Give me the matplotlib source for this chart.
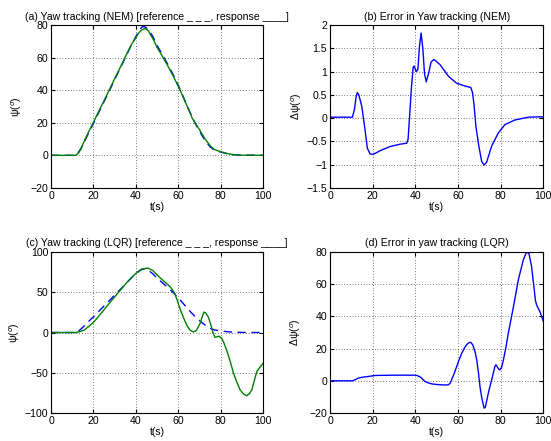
import matplotlib.pyplot as plt

plt.rcParams['font.family'] = ['Liberation Sans', 'DejaVu Sans']
plt.rcParams['mathtext.fontset'] = 'dejavusans'

# Reference yaw trajectory (same in both controllers)
t_ref = [0, 10, 11, 12, 13, 14, 16, 18, 20, 22, 25, 28, 30, 33, 35, 38, 40, 41, 42, 43,
         44, 45, 46, 47, 48, 50, 53, 55, 58, 60, 61, 63, 65, 66.5, 68, 70, 71, 73, 75,
         77, 80, 83, 86, 90, 100]
psi_ref = [0, 0, 0, 0.5, 2, 4, 9, 14.5, 19.5, 25, 33, 41, 46.5, 54.5, 60, 68, 73, 75.5,
           77.5, 79, 79, 78.3, 77, 75, 73, 67.5, 60.7, 56, 48.5, 43, 40, 34, 28, 23.6,
           19.5, 15, 12.5, 8.5, 5.2, 3.2, 2, 1, 0.4, 0.1, 0]

# (a) NEM response
t_nem = t_ref
psi_nem = [0, 0, 0, 0.3, 1.5, 3.6, 9.7, 15.2, 20.3, 25.7, 33.6, 41.6, 47.1, 55, 60.5,
           68.4, 72.2, 74.5, 76.2, 77.2, 77.8, 77.5, 76.3, 73.8, 71.8, 66.3, 59.8, 55.1,
           47.7, 42.3, 39.5, 33.7, 27.7, 23.0, 19.7, 15.8, 13.4, 9.4, 5.9, 3.6, 2.2, 1.1,
           0.4, 0.1, 0]

# (b) NEM error
t_err_nem = [0, 10.5, 11.5, 12.2, 12.8, 13.5, 14.9, 16.4, 17.5, 18.8, 20, 21.5, 23.5,
             28.2, 32.9, 36, 36.6, 37.2, 38.2, 39, 39.4, 40, 40.4, 41.2, 41.9, 42.7, 43.5,
             44.3, 45.1, 46.2, 47.4, 48.8, 51.6, 55.5, 59.4, 63.3, 66, 66.8, 67.5, 68.4,
             69.8, 71.1, 72.2, 73.4, 75.8, 78.9, 82, 86.7, 93, 100]
err_nem = [0.02, 0.02, 0.2, 0.45, 0.55, 0.5, 0.25, -0.25, -0.65, -0.77, -0.78, -0.75,
           -0.70, -0.61, -0.56, -0.54, -0.45, -0.04, 0.68, 1.1, 1.12, 1.05, 1.0, 1.05,
           1.53, 1.83, 1.5, 0.96, 0.78, 0.96, 1.21, 1.26, 1.15, 0.9, 0.75, 0.69, 0.66,
           0.55, 0.3, -0.18, -0.61, -0.93, -1.01, -0.95, -0.6, -0.32, -0.14, -0.04, 0.02,
           0.03]

# (c) LQR response
t_lqr = [0, 11.7, 13.5, 15.6, 18, 20.3, 24, 28, 32, 36, 40, 42, 44, 45.8, 48, 51.4, 54,
         56.1, 57.3, 58.4, 59.5, 60.8, 62.5, 64, 65.5, 67.1, 68.5, 70.2, 71.2, 72.1, 73,
         74.2, 75.5, 76.5, 77.3, 78.1, 78.9, 79.7, 80.5, 81.5, 82.8, 84.5, 86, 87.5, 89.1,
         90.8, 92.3, 93.5, 94.7, 95.8, 97, 98.2, 99.4, 100]
psi_lqr = [0, 0, 1, 3, 8, 13.4, 25, 38, 50.5, 63, 73.5, 77, 79.5, 80, 77, 68, 62,
           57, 53, 48, 40, 29.6, 18, 9, 3, 0.7, 2.5, 11, 19, 25.4, 24, 19, 8, -1.3, -6,
           -5.5, -4.6, -5.5, -7.4, -13, -21.8, -36, -50.6, -61, -71, -76.5, -78.6, -76,
           -71, -60, -48.6, -44, -40.4, -38]

# (d) LQR error
t_err_lqr = [0, 10.5, 12, 13.3, 15, 18, 21, 25, 30.5, 35, 40, 41, 42.5, 44.5, 46, 47.7,
             50, 52.3, 54, 55.5, 56.3, 57, 58.2, 59.4, 60.5, 61.7, 63, 64, 65.3, 66, 66.9,
             68, 68.8, 69.6, 70.3, 71.2, 71.9, 72.3, 72.8, 73.4, 74.5, 75.8, 76.6, 77.3,
             77.8, 78.6, 79.3, 79.7, 80.5, 81.3, 82.5, 83.6, 86, 88.3, 90.6, 91.5, 92.2,
             93.3, 94.5, 95.6, 96.3, 96.9, 98.4, 100]
err_lqr = [0, 0, 0.8, 1.7, 2.2, 2.7, 3.3, 3.4, 3.5, 3.5, 3.5, 3.2, 2.2, -0.4, -1.3, -1.9,
           -2.3, -2.5, -2.6, -2.5, -1.5, 0.6, 4.5, 8.9, 13, 17, 20.3, 22.4, 23.8, 23.9,
           22.4, 18, 13, 5, -3.5, -11, -15, -17, -16.5, -12.8, -6, 0.6, 5, 8.9, 10, 8.3,
           7, 6.8, 8.5, 13, 21, 29.6, 46, 62.7, 75, 78, 80, 79, 71, 58.6, 50, 47, 43, 37]

fs = 7.6
blue = (0, 0, 1)
green = (0, 0.5, 0)
dash = (0, (6, 4))

fig = plt.figure(figsize=(5.51, 4.41), dpi=100)
fig.patch.set_facecolor("white")

positions = [
    [0.0926, 0.574, 0.385, 0.369],
    [0.599, 0.574, 0.387, 0.369],
    [0.0926, 0.0635, 0.385, 0.365],
    [0.599, 0.0635, 0.387, 0.365],
]
axes = [fig.add_axes(p) for p in positions]
ax_a, ax_b, ax_c, ax_d = axes

ax_a.plot(t_ref, psi_ref, color=blue, linestyle=dash, linewidth=1)
ax_a.plot(t_nem, psi_nem, color=green, linewidth=1)
ax_a.set_ylim(-20, 80)
ax_a.set_yticks([-20, 0, 20, 40, 60, 80])
ax_a.set_title("(a) Yaw tracking (NEM) [reference _ _ _, response ____]", fontsize=fs, pad=4)
ax_a.set_ylabel(r"ψ($^{o}$)", fontsize=fs, labelpad=5)

ax_b.plot(t_err_nem, err_nem, color=blue, linewidth=1)
ax_b.set_ylim(-1.5, 2)
ax_b.set_yticks([-1.5, -1, -0.5, 0, 0.5, 1, 1.5, 2])
ax_b.set_yticklabels(["\u22121.5", "\u22121", "\u22120.5", "0", "0.5", "1", "1.5", "2"])
ax_b.set_title("(b) Error in Yaw tracking (NEM)", fontsize=fs, pad=4)
ax_b.set_ylabel(r"Δψ($^{o}$)", fontsize=fs, labelpad=2)

ax_c.plot(t_ref, psi_ref, color=blue, linestyle=dash, linewidth=1)
ax_c.plot(t_lqr, psi_lqr, color=green, linewidth=1)
ax_c.set_ylim(-100, 100)
ax_c.set_yticks([-100, -50, 0, 50, 100])
ax_c.set_title("(c) Yaw tracking (LQR) [reference _ _ _, response ____]", fontsize=fs, pad=4)
ax_c.set_ylabel(r"ψ($^{o}$)", fontsize=fs, labelpad=2)

ax_d.plot(t_err_lqr, err_lqr, color=blue, linewidth=1)
ax_d.set_ylim(-20, 80)
ax_d.set_yticks([-20, 0, 20, 40, 60, 80])
ax_d.set_title("(d) Error in yaw tracking (LQR)", fontsize=fs, pad=4)
ax_d.set_ylabel(r"Δψ($^{o}$)", fontsize=fs, labelpad=5)

for ax in axes:
    ax.set_xlim(0, 100)
    ax.set_xticks([0, 20, 40, 60, 80, 100])
    ax.set_xlabel("t(s)", fontsize=fs, labelpad=1)
    ax.grid(True, linestyle=(0, (1, 3)), color="black", linewidth=0.5)
    ax.tick_params(direction="in", labelsize=fs, top=True, right=True, length=3, pad=2)
    for s in ax.spines.values():
        s.set_linewidth(0.8)

fig.savefig("out.png", dpi=100)
